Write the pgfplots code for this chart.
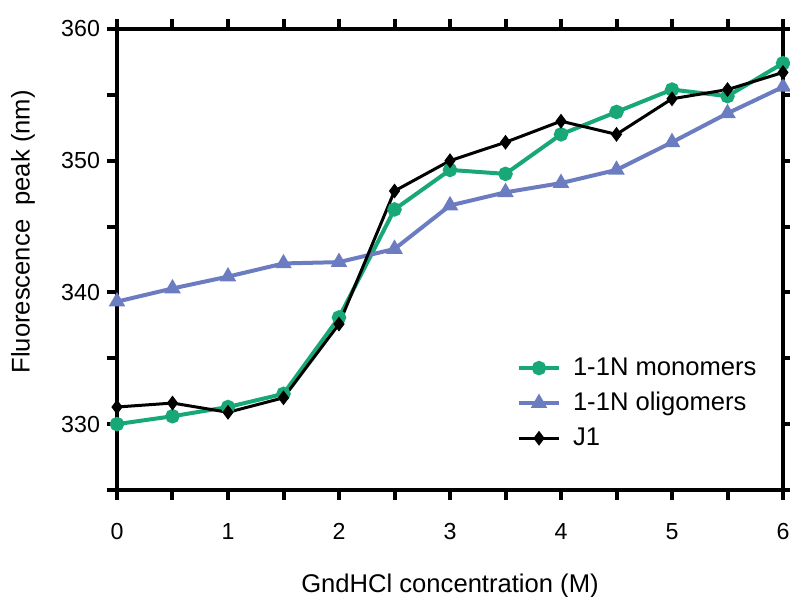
\documentclass[border=0pt]{standalone}
\usepackage{fontspec}
\setmainfont{Liberation Sans}
\usepackage{pgfplots}
\pgfplotsset{compat=1.18}
\definecolor{mgreen}{RGB}{24,168,120}
\definecolor{oblue}{RGB}{108,124,192}
\begin{document}
\begin{tikzpicture}
\begin{axis}[
  name=ax,
  scale only axis,
  width=333pt, height=230.5pt,
  xmin=0, xmax=6, ymin=325, ymax=360,
  clip=false,
  axis line style={line width=2pt},
  every tick/.style={line width=2pt, black},
  tick align=outside,
  major tick length=5pt, minor tick length=5pt,
  xtick={0,1,...,6}, minor xtick={0.5,1.5,...,5.5},
  ytick={330,340,350,360}, minor ytick={325,335,345,355},
  /pgf/number format/assume math mode=true,
  /pgf/number format/1000 sep={},
  xticklabel={\fontsize{11.6}{13}\selectfont\pgfmathprintnumber{\tick}},
  yticklabel={\fontsize{11.6}{13}\selectfont\pgfmathprintnumber{\tick}},
  xticklabel style={yshift=-8pt},
  yticklabel style={xshift=0pt},
  xlabel={GndHCl concentration (M)},
  ylabel={Fluorescence\ \ peak (nm)},
  every axis x label/.style={at={(axis description cs:0.5,-0.207)}, anchor=center, font=\fontsize{12.8}{15}\selectfont},
  every axis y label/.style={at={(axis description cs:-0.141,0.56)}, rotate=90, anchor=center, font=\fontsize{12.8}{15}\selectfont},
  legend style={at={(axis description cs:0.591,0.305)}, anchor=north west, draw=none, fill=none,
    font=\fontsize{12.8}{15}\selectfont, cells={anchor=west}, row sep=3pt,
    /tikz/every odd column/.append style={column sep=4pt}},
  legend image code/.code={\draw[mark repeat=2,mark phase=2,#1] plot coordinates {(0pt,0pt) (10pt,0pt) (20pt,0pt)};},
]
\addplot[mgreen, line width=2pt, mark=*, mark size=2.6pt, mark options={solid}] coordinates {
(0,330.0) (0.5,330.6) (1,331.3) (1.5,332.3) (2,338.1) (2.5,346.3) (3,349.3) (3.5,349.0) (4,352.0) (4.5,353.7) (5,355.4) (5.5,354.9) (6,357.4)};
\addlegendentry{1-1N monomers}
\addplot[oblue, line width=2pt, mark=triangle*, mark size=2.8pt, mark options={solid}] coordinates {
(0,339.3) (0.5,340.3) (1,341.2) (1.5,342.2) (2,342.3) (2.5,343.3) (3,346.6) (3.5,347.6) (4,348.3) (4.5,349.3) (5,351.4) (5.5,353.6) (6,355.6)};
\addlegendentry{1-1N oligomers}
\addplot[black, line width=1.5pt, mark=diamond*, mark size=2.5pt, mark options={solid}] coordinates {
(0,331.3) (0.5,331.6) (1,330.9) (1.5,332.0) (2,337.6) (2.5,347.7) (3,350.0) (3.5,351.4) (4,353.0) (4.5,352.0) (5,354.7) (5.5,355.4) (6,356.7)};
\addlegendentry{J1}
\end{axis}
\pgfresetboundingbox
\path[use as bounding box] ([xshift=-58.5pt,yshift=-53.5pt]ax.south west) rectangle ([xshift=3.5pt,yshift=14.5pt]ax.north east);
\end{tikzpicture}
\end{document}
